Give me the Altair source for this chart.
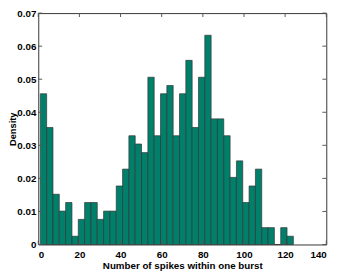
import altair as alt
import pandas as pd

# Histogram: 40 bins from 1 to 124 (density = fraction of bursts)
bin_start = 1.0
bin_end = 124.0
n_bins = 40
density = [
    0.0456, 0.0354, 0.0152, 0.0101, 0.0127, 0.0025, 0.0076, 0.0127, 0.0127, 0.0076,
    0.0101, 0.0101, 0.0177, 0.0228, 0.0329, 0.0304, 0.0278, 0.0506, 0.0329, 0.0456,
    0.0481, 0.0329, 0.0456, 0.0557, 0.0354, 0.0506, 0.0633, 0.0380, 0.0380, 0.0329,
    0.0203, 0.0253, 0.0127, 0.0177, 0.0228, 0.0051, 0.0051, 0.0000, 0.0051, 0.0025,
]
x_ticks = [0, 20, 40, 60, 80, 100, 120, 140]
y_ticks = [0, 0.01, 0.02, 0.03, 0.04, 0.05, 0.06, 0.07]

W, H = 295, 237
bw = (bin_end - bin_start) / n_bins
bars = pd.DataFrame({
    "x0": [bin_start + i * bw for i in range(n_bins)],
    "x1": [bin_start + (i + 1) * bw for i in range(n_bins)],
    "d": density,
})
xt = pd.DataFrame({"v": x_ticks})
yt = pd.DataFrame({"v": y_ticks})

FONT = "Liberation Sans"
xscale = alt.Scale(domain=[0, 140], nice=False, zero=False)
yscale = alt.Scale(domain=[0, 0.07], nice=False)

xaxis = alt.Axis(values=x_ticks, title="Number of spikes within one burst",
                 grid=False, ticks=False, domain=False, labelPadding=5, labelOverlap=False,
                 labelFont=FONT, labelFontSize=10, labelFontWeight="bold", labelColor="black",
                 titleFont=FONT, titleFontSize=10, titleFontWeight="bold", titleColor="black",
                 titleY=25, titleBaseline="alphabetic")
yaxis = alt.Axis(values=y_ticks, format=".2~f", title="Density",
                 grid=False, ticks=False, domain=False, labelPadding=2.5, labelOverlap=False,
                 labelFont=FONT, labelFontSize=10, labelFontWeight="bold", labelColor="black",
                 titleFont=FONT, titleFontSize=9.5, titleFontWeight="bold", titleColor="black",
                 titleX=-23.5, titleY=H / 2, titleAngle=-90, titleBaseline="alphabetic")

bar_layer = alt.Chart(bars).mark_rect(
    fill="#00806a", stroke="#333333", strokeWidth=0.7
).encode(
    x=alt.X("x0:Q", scale=xscale, axis=xaxis),
    x2="x1:Q",
    y=alt.Y("d:Q", scale=yscale, axis=yaxis),
    y2=alt.datum(0),
)

tick_color = "#555555"
xb = alt.Chart(xt).mark_rule(color=tick_color, strokeWidth=1).encode(
    x=alt.X("v:Q", scale=xscale, axis=xaxis), y=alt.value(H), y2=alt.value(H - 4))
xtp = alt.Chart(xt).mark_rule(color=tick_color, strokeWidth=1).encode(
    x=alt.X("v:Q", scale=xscale, axis=xaxis), y=alt.value(0), y2=alt.value(4))
yl = alt.Chart(yt).mark_rule(color=tick_color, strokeWidth=1).encode(
    y=alt.Y("v:Q", scale=yscale, axis=yaxis), x=alt.value(0), x2=alt.value(4))
yr = alt.Chart(yt).mark_rule(color=tick_color, strokeWidth=1).encode(
    y=alt.Y("v:Q", scale=yscale, axis=yaxis), x=alt.value(W), x2=alt.value(W - 4))

chart = alt.layer(bar_layer, xb, xtp, yl, yr).properties(
    width=W, height=H,
    autosize=alt.AutoSizeParams(type="none"),
    padding={"left": 31, "top": 2, "right": 12, "bottom": 27},
).configure_view(stroke="#333333", strokeWidth=1)

chart.save("out.html", embed_options={"renderer": "svg", "actions": False})
